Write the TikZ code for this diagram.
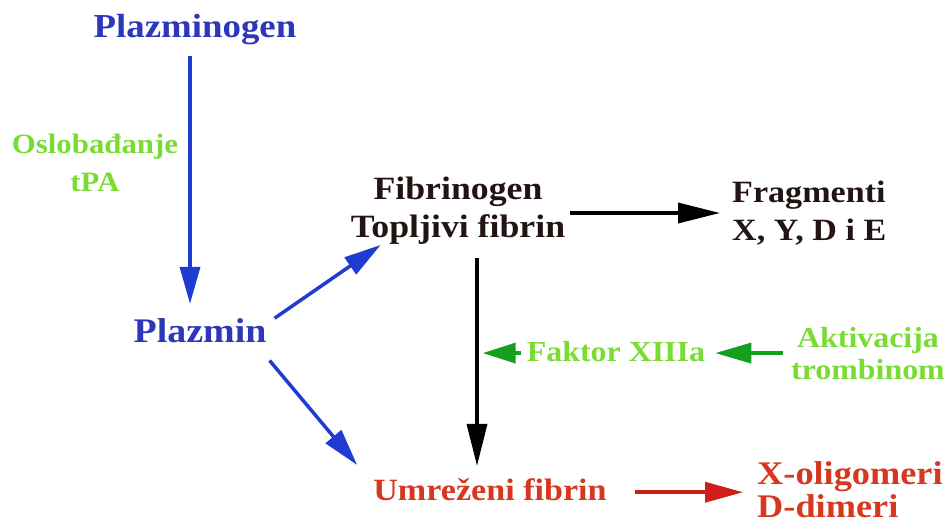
\documentclass[tikz,border=0pt]{standalone}
\usepackage{fontspec}
\setmainfont{Liberation Serif}[FakeStretch=1.1]
\usetikzlibrary{arrows.meta}
\definecolor{plazblue}{RGB}{45,55,185}
\definecolor{arrowblue}{RGB}{30,60,210}
\definecolor{tpagreen}{RGB}{120,220,50}
\definecolor{darkgreen}{RGB}{20,160,30}
\definecolor{fibred}{RGB}{215,55,30}
\definecolor{arrowred}{RGB}{205,30,25}
\definecolor{textblack}{RGB}{35,20,20}

\begin{document}
\begin{tikzpicture}[x=1pt,y=-1pt,
    label/.style={inner sep=0pt,font=\bfseries\fontsize{#1}{38}\selectfont},
    label/.default=31,
    tip/.style={-{Triangle[length=#1,width=20pt]}},
    conn/.style={line width=3.5pt}]
       \useasboundingbox (0,0) rectangle (948,525);
       \node[label=33.5,anchor=base,text=plazblue] (plazminogen) at (195,37) {Plazminogen};
       \node[label=28,align=center,text=tpagreen] (oslobadjanje) at (95,163) {Oslobađanje\\tPA};
       \node[label=34.5,anchor=base,text=plazblue] (plazmin) at (200,342) {Plazmin};
       \node[label=32.5,align=center,text=textblack] (fibrinogen) at (458,211) {Fibrinogen\\Topljivi fibrin};
       \node[label,anchor=west,align=left,text=textblack] (fragmenti) at (732,213) {Fragmenti\\X, Y, D i E};
       \node[label=29,anchor=base,text=tpagreen] (faktor) at (616,361) {Faktor XIIIa};
       \node[align=center,text=tpagreen,inner sep=0pt,font=\bfseries\fontsize{29}{32}\selectfont] (aktivacija) at (868,354) {Aktivacija\\trombinom};
       \node[label,anchor=base,text=fibred] (umrezeni) at (490,500) {Umreženi fibrin};
       \node[anchor=west,align=left,text=fibred,inner sep=0pt,font=\bfseries\fontsize{33}{33}\selectfont] (oligomeri) at (757,490) {X-oligomeri\\D-dimeri};
       % plazmin
       \draw[conn,arrowblue,tip=37pt] ([xshift=-5pt,yshift=-11pt]plazminogen.south) -- ([xshift=-10pt,yshift=14pt]plazmin.north);
       \draw[conn,arrowblue,tip=37pt] ([xshift=8pt,yshift=12pt]plazmin.east) -- ([xshift=30pt]fibrinogen.south west);
       \draw[conn,arrowblue,tip=37pt] ([xshift=3pt,yshift=-18pt]plazmin.south east) -- ([xshift=-16pt,yshift=13pt]umrezeni.north west);
       % fibrin
       \draw[conn,black,tip=42pt,shorten <=5pt,shorten >=12pt] ([yshift=-2pt]fibrinogen.east) -- ([yshift=-2pt]fibrinogen.east -| fragmenti.west);
       \draw[conn,black,tip=42pt,shorten <=13pt,shorten >=12pt] ([xshift=19pt]fibrinogen.south) -- ([xshift=-13pt]umrezeni.north);
       \draw[conn,arrowred,tip=38pt,shorten <=28pt,shorten >=14pt] ([yshift=-3pt]umrezeni.east) -- ([yshift=-3pt]umrezeni.east -| oligomeri.west);
       % faktor XIIIa
       \draw[conn,darkgreen,tip=36pt,shorten <=8pt,shorten >=10pt] ([yshift=-2pt]faktor.east -| aktivacija.west) -- ([yshift=-2pt]faktor.east);
       \draw[conn,darkgreen,tip=33pt] ([xshift=-6pt,yshift=-2pt]faktor.west) -- ([xshift=-44pt,yshift=-2pt]faktor.west);
\end{tikzpicture}
\end{document}
